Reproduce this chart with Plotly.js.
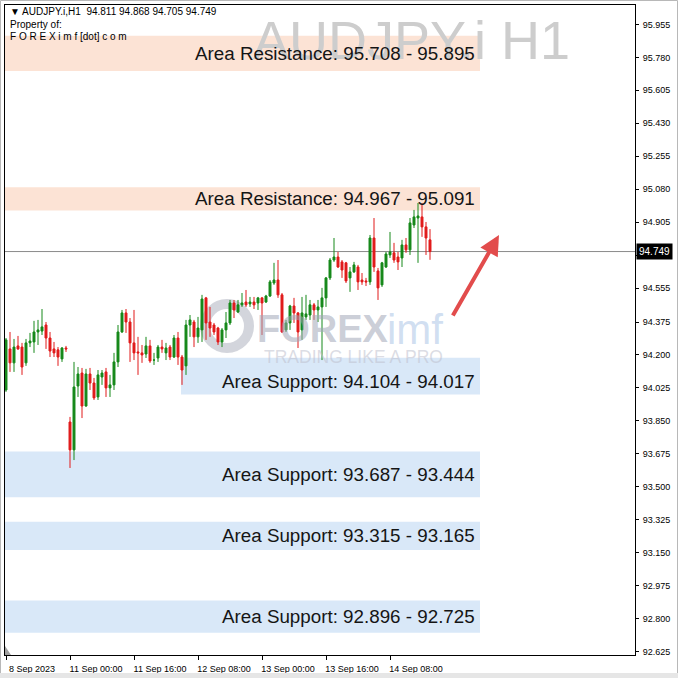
<!DOCTYPE html>
<html><head><meta charset="utf-8">
<script src="https://cdn.plot.ly/plotly-3.0.1.min.js"></script>
<style>html,body{margin:0;padding:0;background:#fff;} #chart{width:678px;height:678px;}</style>
</head><body><div id="chart"></div>
<script>
// trading sessions (date, first hour, last hour) used to build the hourly categories
const sessions = [['2023-09-08',8,23],['2023-09-11',0,23],['2023-09-12',0,23],['2023-09-13',0,23],['2023-09-14',0,18]];
const times = [];
sessions.forEach(function(s){ for(let h=s[1]; h<=s[2]; h++){ times.push(s[0]+' '+(h<10?'0':'')+h+':00'); } });

const openP = [
94.014,94.232,94.158,94.248,94.242,94.158,94.264,94.269,94.322,94.327,
94.359,94.290,94.232,94.227,94.179,94.237,
93.844,93.696,94.035,94.104,93.929,94.099,94.051,93.977,94.083,94.110,
94.025,94.041,94.163,94.322,94.423,94.375,94.264,94.216,94.211,94.205,
94.248,94.173,94.184,94.242,94.211,94.242,94.189,94.290,94.189,94.142,
94.359,94.375,94.296,94.333,94.503,94.375,94.359,94.343,94.269,94.333,
94.370,94.476,94.428,94.466,94.481,94.471,94.481,94.476,94.503,94.481,
94.513,94.582,94.598,94.519,94.333,94.370,94.460,94.423,94.333,94.402,
94.412,94.466,94.439,94.455,94.503,94.609,94.704,94.720,94.694,94.689,
94.609,94.641,94.667,94.598,94.593,94.588,94.821,94.646,94.572,94.667,
94.731,94.742,94.720,94.715,94.784,94.758,94.890,94.927,94.933,94.880,
94.811];
const highP = [
94.290,94.322,94.285,94.301,94.264,94.285,94.317,94.381,94.386,94.444,
94.375,94.322,94.269,94.242,94.242,94.248,
93.871,94.163,94.136,94.131,94.126,94.131,94.078,94.120,94.120,94.131,
94.094,94.211,94.359,94.439,94.444,94.396,94.439,94.296,94.253,94.296,
94.280,94.211,94.253,94.280,94.264,94.253,94.306,94.322,94.200,94.386,
94.412,94.386,94.402,94.519,94.508,94.455,94.370,94.349,94.343,94.428,
94.492,94.492,94.492,94.529,94.545,94.508,94.508,94.508,94.508,94.519,
94.598,94.689,94.704,94.529,94.386,94.466,94.503,94.428,94.508,94.519,
94.492,94.476,94.492,94.556,94.614,94.715,94.821,94.747,94.704,94.694,
94.667,94.694,94.678,94.635,94.609,94.837,94.927,94.662,94.694,94.747,
94.853,94.795,94.747,94.811,94.821,94.927,94.970,95.007,95.007,94.906,
94.868];
const lowP = [
94.004,94.110,94.110,94.227,94.094,94.142,94.242,94.211,94.253,94.306,
94.232,94.189,94.189,94.142,94.163,94.216,
93.600,93.642,93.977,93.865,93.925,94.014,93.961,93.961,94.041,93.977,
93.977,94.014,94.136,94.317,94.317,94.163,94.173,94.094,94.158,94.184,
94.158,94.147,94.163,94.211,94.173,94.173,94.184,94.147,94.041,94.094,
94.296,94.242,94.264,94.269,94.280,94.296,94.306,94.253,94.242,94.290,
94.359,94.396,94.423,94.455,94.455,94.455,94.444,94.439,94.306,94.476,
94.508,94.572,94.503,94.317,94.322,94.333,94.370,94.237,94.280,94.386,
94.386,94.386,94.375,94.173,94.455,94.598,94.694,94.662,94.609,94.582,
94.535,94.635,94.545,94.572,94.566,94.572,94.641,94.492,94.561,94.662,
94.715,94.689,94.651,94.667,94.742,94.731,94.874,94.689,94.827,94.731,
94.705];
const closeP = [
94.280,94.158,94.242,94.232,94.136,94.264,94.274,94.322,94.333,94.349,
94.290,94.221,94.211,94.189,94.237,94.232,
93.696,94.030,94.099,93.929,94.099,94.051,93.972,94.094,94.104,94.025,
94.041,94.163,94.322,94.423,94.375,94.264,94.211,94.211,94.200,94.248,
94.168,94.173,94.242,94.232,94.237,94.189,94.290,94.189,94.120,94.359,
94.386,94.296,94.343,94.497,94.370,94.343,94.322,94.269,94.333,94.370,
94.476,94.439,94.466,94.476,94.466,94.481,94.466,94.503,94.476,94.513,
94.588,94.598,94.519,94.322,94.370,94.460,94.423,94.322,94.423,94.418,
94.466,94.439,94.455,94.503,94.609,94.704,94.720,94.667,94.651,94.593,
94.641,94.678,94.588,94.588,94.588,94.821,94.667,94.556,94.689,94.736,
94.747,94.704,94.694,94.784,94.758,94.901,94.933,94.938,94.880,94.821,
94.749];

const yTickLabels = ['92.625','92.800','92.975','93.150','93.325','93.500','93.675','93.850','94.025','94.200','94.375','94.555','94.730','94.905','95.080','95.255','95.430','95.605','95.780','95.955'];
const xTickIdx = [0,16,32,48,64,80,96];
const xTickLabels = ['8 Sep 2023','11 Sep 00:00','11 Sep 16:00','12 Sep 08:00','13 Sep 00:00','13 Sep 16:00','14 Sep 08:00'];

// zones
const zoneNames = ['Area Resistance','Area Resistance','Area Support','Area Support','Area Support','Area Support'];
const zoneA = [95.708, 94.967, 94.104, 93.687, 93.315, 92.896];
const zoneB = [95.895, 95.091, 94.017, 93.444, 93.165, 92.725];
const zoneBoxLo = [95.708, 94.967, 93.990, 93.444, 93.165, 92.725];
const zoneBoxHi = [95.895, 95.091, 94.185, 93.687, 93.315, 92.896];

const symbol = 'AUDJPY.i', tf = 'H1';

// pixel helpers for paper placement (plot area 630x650 starting at 5,5)
function px(x){ return (x-5)/630; }
function py(y){ return 1-(y-5)/650; }
const zoneBoxX0 = [0, 0, px(181), 0, 0, 0];

const last = closeP.length-1;
const shapes = [];
const annotations = [];

for(let k=0;k<zoneA.length;k++){
  const res = zoneNames[k].indexOf('Resistance')>=0;
  shapes.push({type:'rect', layer:'below', xref:'paper', yref:'y', x0:zoneBoxX0[k], x1:px(480), y0:zoneBoxLo[k], y1:zoneBoxHi[k],
    fillcolor: res ? '#fce3d5' : '#d9e8f8', line:{width:0}});
}
// last price line
shapes.push({type:'line', layer:'below', xref:'paper', yref:'y', x0:0, x1:1, y0:closeP[last], y1:closeP[last], line:{color:'#8a8a8a', width:1}});
// logo ring
shapes.push({type:'circle', layer:'below', xref:'paper', yref:'paper', x0:px(205), x1:px(249), y0:py(348), y1:py(304), line:{color:'rgba(175,178,192,0.55)', width:10}});
// shift marker
shapes.push({type:'path', xref:'paper', yref:'paper', path:'M 0 '+py(655)+' L '+px(11)+' '+py(655)+' L 0 '+py(646)+' Z', fillcolor:'#a0a0a0', line:{width:0}});
// window frame
shapes.push({type:'rect', xref:'paper', yref:'paper', x0:px(0.5), x1:px(677.5), y0:py(677.5), y1:py(0.5), line:{color:'#b8b8b8', width:1}, fillcolor:'rgba(0,0,0,0)'});
shapes.push({type:'rect', xref:'paper', yref:'paper', x0:px(0), x1:px(678), y0:py(678), y1:py(673), line:{width:0}, fillcolor:'#e6e6e6'});

// watermark (first so labels draw over it)
annotations.push({xref:'paper', yref:'paper', x:px(411), y:py(40), xanchor:'center', yanchor:'middle', showarrow:false,
  text: symbol+' '+tf, font:{family:'Liberation Sans, Arial', size:54, color:'#cdcdcd'}});
// logo text
annotations.push({xref:'paper', yref:'paper', x:px(255), y:py(329), xanchor:'left', yanchor:'middle', showarrow:false,
  text:'<b>FOREX</b>', font:{family:'Liberation Sans, Arial', size:38, color:'rgba(160,165,182,0.55)'}});
annotations.push({xref:'paper', yref:'paper', x:px(385), y:py(329), xanchor:'left', yanchor:'middle', showarrow:false,
  text:'imf', font:{family:'Liberation Sans, Arial', size:42, color:'rgba(170,195,230,0.55)'}});
annotations.push({xref:'paper', yref:'paper', x:px(353), y:py(357), xanchor:'center', yanchor:'middle', showarrow:false,
  text:'TRADING LIKE A PRO', font:{family:'Liberation Sans, Arial', size:17.5, color:'rgba(190,192,205,0.55)'}});
// zone labels
for(let k=0;k<zoneA.length;k++){
  annotations.push({xref:'paper', yref:'y', x:px(477), y:(zoneA[k]+zoneB[k])/2, xanchor:'right', yanchor:'middle', showarrow:false,
    text: zoneNames[k]+': '+zoneA[k].toFixed(3)+' - '+zoneB[k].toFixed(3), font:{family:'Liberation Sans, Arial', size:18.8, color:'#151515'}});
}
// header
const hdrFont = {family:'Liberation Sans, Tahoma, Arial', size:10, color:'#000'};
annotations.push({xref:'paper', yref:'paper', x:px(8), y:py(12), xanchor:'left', yanchor:'middle', showarrow:false,
  text:'\u25BC '+symbol+','+tf+'\u00a0\u00a0'+openP[last].toFixed(3)+' '+highP[last].toFixed(3)+' '+lowP[last].toFixed(3)+' '+closeP[last].toFixed(3), font:hdrFont});
annotations.push({xref:'paper', yref:'paper', x:px(8), y:py(24), xanchor:'left', yanchor:'middle', showarrow:false, text:'Property of:', font:hdrFont});
annotations.push({xref:'paper', yref:'paper', x:px(8), y:py(37), xanchor:'left', yanchor:'middle', showarrow:false, text:'F O R E X i m f [dot] c o m', font:hdrFont});
// last price label
annotations.push({xref:'paper', yref:'y', x:1, y:closeP[last], xanchor:'left', yanchor:'middle', xshift:1, showarrow:false,
  text:closeP[last].toFixed(3), bgcolor:'#000', borderpad:2, font:{family:'Liberation Sans, Arial', size:10, color:'#fff'}});
// arrow
annotations.push({xref:'paper', yref:'paper', x:px(499), y:py(235), ax:-47, ay:82, axref:'pixel', ayref:'pixel', text:'', showarrow:true,
  arrowcolor:'#e24c4c', arrowwidth:4, arrowhead:2, arrowsize:1, standoff:0});

const trace = {
  type:'candlestick', x:times, open:openP, high:highP, low:lowP, close:closeP,
  increasing:{line:{color:'#16891a', width:1}, fillcolor:'#16891a'},
  decreasing:{line:{color:'#e11b1b', width:1}, fillcolor:'#e11b1b'},
  whiskerwidth:0, hoverinfo:'skip', showlegend:false
};

const layout = {
  width:678, height:678,
  margin:{l:5, r:43, t:5, b:23},
  paper_bgcolor:'#fff', plot_bgcolor:'#fff',
  showlegend:false,
  font:{family:'Liberation Sans, Arial', size:9, color:'#000'},
  xaxis:{type:'category', range:[-0.25, 157.25], rangeslider:{visible:false}, showgrid:false, zeroline:false,
    showline:true, mirror:true, linecolor:'#000', linewidth:1,
    tickmode:'array', tickvals:xTickIdx.map(function(i){return times[i];}), ticktext:xTickLabels,
    ticks:'outside', ticklen:4, tickcolor:'#000', tickangle:0, ticklabelshift:26, ticklabelstandoff:1,
    tickfont:{family:'Liberation Sans, Arial', size:9, color:'#000'}},
  yaxis:{side:'right', range:[92.607, 96.058], showgrid:false, zeroline:false,
    showline:true, mirror:true, linecolor:'#000', linewidth:1,
    tickmode:'array', tickvals:yTickLabels.map(Number), ticktext:yTickLabels,
    ticks:'outside', ticklen:3, tickcolor:'#000', ticklabelstandoff:2,
    tickfont:{family:'Liberation Sans, Arial', size:9, color:'#000'}},
  shapes:shapes, annotations:annotations
};

Plotly.newPlot('chart', [trace], layout, {staticPlot:true, displayModeBar:false});
</script></body></html>
